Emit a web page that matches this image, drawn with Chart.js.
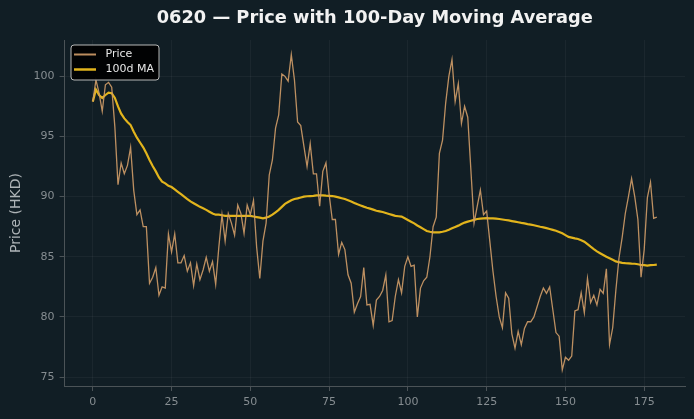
<!DOCTYPE html>
<html>
<head>
<meta charset="utf-8">
<script src="https://cdn.jsdelivr.net/npm/chart.js@4.4.0/dist/chart.umd.min.js"></script>
<style>
  html, body { margin: 0; padding: 0; background: #121f26; }
  #wrap { width: 694px; height: 419px; position: relative; }
  canvas { display: block; }
</style>
</head>
<body>
<div id="wrap"><canvas id="c" width="694" height="419"></canvas></div>
<script>
// ---- Data ----
const chartTitle = "0620 \u2014 Price with 100-Day Moving Average";
const yAxisTitle = "Price (HKD)";
const seriesNames = ["Price", "100d MA"];
const xTicks = [0, 25, 50, 75, 100, 125, 150, 175];
const yTicks = [75, 80, 85, 90, 95, 100];

const price = [
  97.9, 99.7, 98.6, 97.1, 99.3, 99.5, 99.1, 95.8, 91.0, 92.8,
  91.9, 92.6, 94.1, 90.5, 88.5, 88.9, 87.5, 87.5, 82.8, 83.3,
  84.1, 81.8, 82.5, 82.4, 86.9, 85.4, 86.9, 84.5, 84.5, 85.1,
  83.8, 84.5, 82.6, 84.4, 83.1, 83.9, 84.95, 83.8, 84.6, 82.7,
  85.8, 88.5, 86.3, 88.6, 87.8, 86.8, 89.3, 88.6, 86.95, 89.3,
  88.5, 89.7, 85.8, 83.2, 86.3, 87.8, 91.8, 93.05, 95.7, 96.8,
  100.2, 100.0, 99.6, 101.8, 99.7, 96.2, 95.9, 94.2, 92.5, 94.4,
  91.9, 91.9, 89.2, 92.1, 92.8, 90.2, 88.1, 88.1, 85.2, 86.2,
  85.6, 83.5, 82.8, 80.4, 81.1, 81.7, 84.1, 81.0, 81.05, 79.3,
  81.4, 81.7, 82.2, 83.5, 79.6, 79.7, 81.7, 83.1, 82.0, 84.2,
  85.0, 84.2, 84.3, 80.0, 82.4, 83.0, 83.3, 85.0, 87.5, 88.3,
  93.6, 94.7, 97.8, 100.0, 101.4, 97.9, 99.4, 96.1, 97.5, 96.6,
  92.2, 87.8, 89.2, 90.55, 88.5, 88.8, 86.3, 83.8, 81.7, 80.0,
  79.1, 82.0, 81.55, 78.6, 77.4, 78.8, 77.7, 79.05, 79.6, 79.6,
  80.0, 80.85, 81.7, 82.4, 81.96, 82.5, 80.6, 78.7, 78.4, 75.6,
  76.65, 76.4, 76.75, 80.5, 80.6, 82.0, 80.35, 83.2, 81.2, 81.8,
  81.0, 82.3, 81.96, 84.0, 77.7, 79.1, 82.2, 84.9, 86.6, 88.6,
  90.0, 91.5, 90.0, 88.1, 83.3, 85.6, 89.9, 91.2, 88.2, 88.3
];

const ma100 = [
  97.9, 98.9, 98.45, 98.2, 98.45, 98.65, 98.6, 98.2, 97.5, 96.9,
  96.5, 96.2, 95.95, 95.4, 94.9, 94.5, 94.1, 93.6, 93.05, 92.55,
  92.1, 91.6, 91.25, 91.1, 90.9, 90.8, 90.6, 90.4, 90.2, 90.0,
  89.8, 89.6, 89.45, 89.3, 89.15, 89.03, 88.9, 88.75, 88.6, 88.5,
  88.5, 88.45, 88.4, 88.4, 88.4, 88.4, 88.4, 88.4, 88.4, 88.4,
  88.4, 88.35, 88.3, 88.25, 88.2, 88.25, 88.35, 88.5, 88.7, 88.9,
  89.15, 89.4, 89.55, 89.7, 89.8, 89.86, 89.93, 90.0, 90.03, 90.05,
  90.07, 90.1, 90.1, 90.1, 90.08, 90.07, 90.05, 90.0, 89.94, 89.87,
  89.8, 89.7, 89.6, 89.48, 89.36, 89.27, 89.17, 89.08, 89.0, 88.92,
  88.83, 88.78, 88.72, 88.64, 88.56, 88.48, 88.4, 88.37, 88.34, 88.2,
  88.06, 87.92, 87.78, 87.6, 87.45, 87.3, 87.14, 87.08, 87.03, 87.03,
  87.03, 87.08, 87.14, 87.25, 87.37, 87.48, 87.59, 87.72, 87.84, 87.92,
  88.0, 88.07, 88.14, 88.17, 88.2, 88.22, 88.2, 88.2, 88.17, 88.14,
  88.1, 88.06, 88.02, 87.97, 87.92, 87.87, 87.82, 87.78, 87.72, 87.67,
  87.62, 87.56, 87.5, 87.45, 87.38, 87.31, 87.24, 87.17, 87.06, 86.95,
  86.8, 86.65, 86.59, 86.53, 86.48, 86.38, 86.26, 86.05, 85.84, 85.64,
  85.45, 85.3, 85.15, 85.0, 84.88, 84.75, 84.62, 84.55, 84.5, 84.47,
  84.45, 84.43, 84.42, 84.38, 84.32, 84.3, 84.27, 84.3, 84.32, 84.35
];

// ---- Styles ----
const BG = "#111e25";
const PRICE_COLOR = "rgba(208,156,104,0.9)";
const MA_COLOR = "#e2b41c";
const TICK_COLOR = "#868d91";
const SPINE_COLOR = "#4b5357";
const GRID_COLOR = "rgba(255,255,255,0.045)";
const FONT = "'DejaVu Sans', sans-serif";

const pricePts = price.map((v, i) => ({ x: i, y: v }));
const maPts = ma100.map((v, i) => ({ x: i, y: v }));

const decor = {
  id: "decor",
  beforeDraw(chart) {
    const ctx = chart.ctx;
    ctx.save();
    ctx.fillStyle = BG;
    ctx.fillRect(0, 0, chart.width, chart.height);
    ctx.restore();
  },
  afterDraw(chart) {
    const ctx = chart.ctx;
    const a = chart.chartArea;
    ctx.save();
    // Title
    ctx.fillStyle = "#f2f2f2";
    ctx.font = "bold 17.8px " + FONT;
    ctx.textAlign = "center";
    ctx.textBaseline = "middle";
    ctx.fillText(chartTitle, (a.left + a.right) / 2, 18);
    // Y axis title
    ctx.save();
    ctx.translate(16, (a.top + a.bottom) / 2);
    ctx.rotate(-Math.PI / 2);
    ctx.fillStyle = "#aeb4b7";
    ctx.font = "14px " + FONT;
    ctx.fillText(yAxisTitle, 0, 0);
    ctx.restore();
    // Legend
    const bx = 71, by = 45, bw = 88, bh = 35, r = 3;
    ctx.beginPath();
    ctx.moveTo(bx + r, by);
    ctx.arcTo(bx + bw, by, bx + bw, by + bh, r);
    ctx.arcTo(bx + bw, by + bh, bx, by + bh, r);
    ctx.arcTo(bx, by + bh, bx, by, r);
    ctx.arcTo(bx, by, bx + bw, by, r);
    ctx.closePath();
    ctx.fillStyle = "rgba(0,0,0,0.92)";
    ctx.fill();
    ctx.strokeStyle = "#b8b8b8";
    ctx.lineWidth = 1;
    ctx.stroke();
    const items = [
      { name: seriesNames[0], color: chart.data.datasets[0].borderColor, w: 2, y: 54.5 },
      { name: seriesNames[1], color: chart.data.datasets[1].borderColor, w: 2.5, y: 69.5 }
    ];
    ctx.font = "11px " + FONT;
    ctx.textAlign = "left";
    ctx.textBaseline = "middle";
    items.forEach(it => {
      ctx.beginPath();
      ctx.moveTo(74, it.y);
      ctx.lineTo(96, it.y);
      ctx.strokeStyle = it.color;
      ctx.lineWidth = it.w;
      ctx.stroke();
      ctx.fillStyle = "#e6e6e6";
      ctx.fillText(it.name, 105.5, it.y);
    });
    ctx.restore();
  }
};

new Chart(document.getElementById("c"), {
  type: "line",
  data: {
    datasets: [
      {
        label: seriesNames[0],
        data: pricePts,
        borderColor: PRICE_COLOR,
        borderWidth: 1.3,
        pointRadius: 0,
        tension: 0,
        fill: false
      },
      {
        label: seriesNames[1],
        data: maPts,
        borderColor: MA_COLOR,
        borderWidth: 2.2,
        pointRadius: 0,
        tension: 0,
        fill: false
      }
    ]
  },
  options: {
    responsive: false,
    animation: false,
    devicePixelRatio: 1,
    layout: { padding: { top: 40, right: 9, left: 0, bottom: 0 } },
    plugins: {
      legend: { display: false },
      title: { display: false },
      tooltip: { enabled: false }
    },
    scales: {
      x: {
        type: "linear",
        min: -8.95,
        max: 187.95,
        afterBuildTicks: s => { s.ticks = xTicks.map(v => ({ value: v })); },
        afterFit: s => { s.height = 33; },
        grid: { color: GRID_COLOR, tickColor: SPINE_COLOR, tickLength: 5, drawTicks: true },
        border: { display: true, color: SPINE_COLOR, width: 1 },
        ticks: { color: TICK_COLOR, font: { family: FONT, size: 11 }, padding: 5, maxRotation: 0 }
      },
      y: {
        type: "linear",
        min: 74.26,
        max: 103.02,
        afterBuildTicks: s => { s.ticks = yTicks.map(v => ({ value: v })); },
        afterFit: s => { s.width = 64.6; },
        grid: { color: GRID_COLOR, tickColor: SPINE_COLOR, tickLength: 5, drawTicks: true },
        border: { display: true, color: SPINE_COLOR, width: 1 },
        ticks: { color: TICK_COLOR, font: { family: FONT, size: 11 }, padding: 5 }
      }
    }
  },
  plugins: [decor]
});
</script>
</body>
</html>
